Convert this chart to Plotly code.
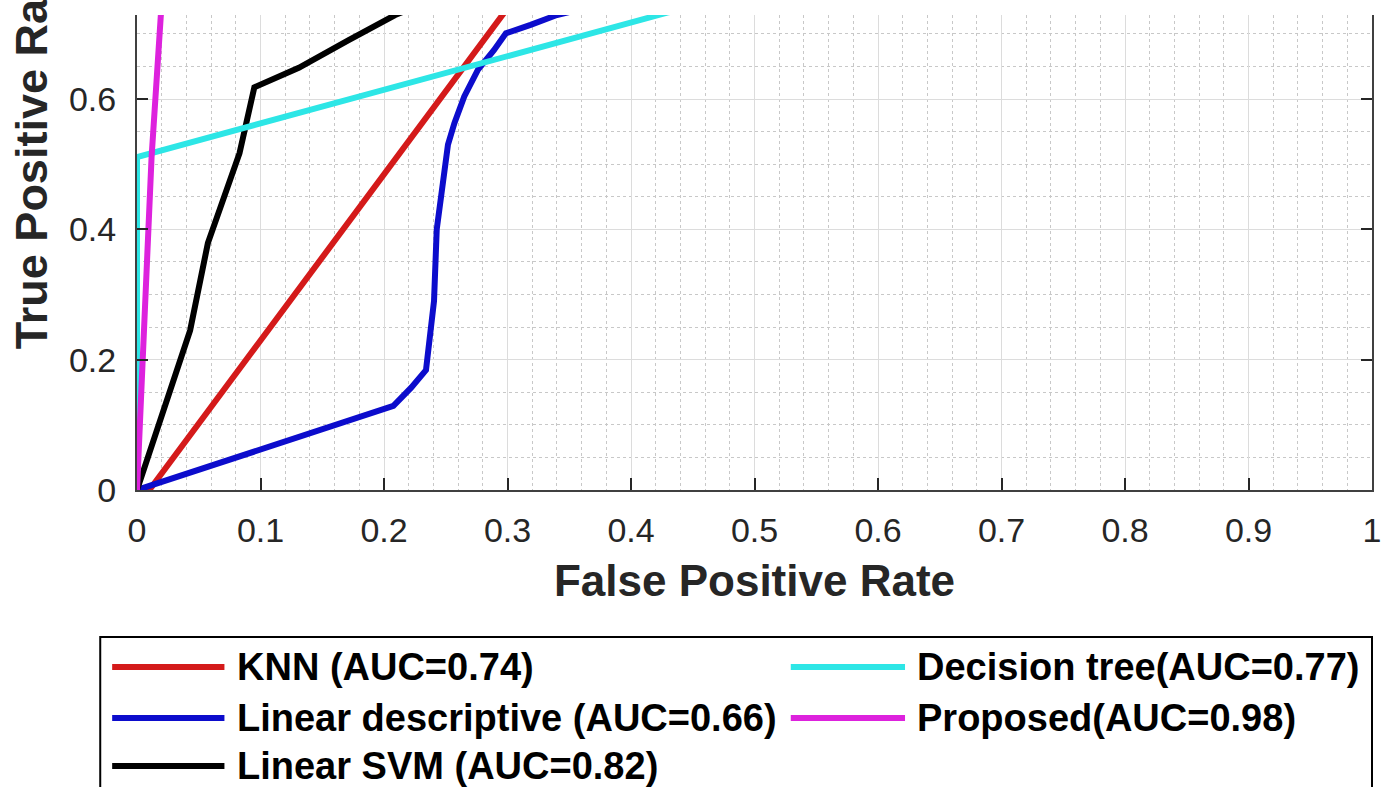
import plotly.graph_objects as go

# ---------------- data ----------------
fpr_knn = [0.0, 0.010, 0.310, 1.0]
tpr_knn = [0.0, 0.000, 0.765, 1.0]

fpr_ld = [0.0, 0.2076, 0.222, 0.234, 0.2405, 0.2427, 0.2518, 0.2570, 0.265, 0.276, 0.289, 0.2987, 0.3187, 0.340, 0.45, 0.60, 1.0]
tpr_ld = [0.0, 0.129, 0.157, 0.184, 0.290, 0.400, 0.530, 0.563, 0.604, 0.645, 0.675, 0.701, 0.714, 0.729, 0.78, 0.84, 1.0]

fpr_svm = [0.0, 0.043, 0.0574, 0.083, 0.095, 0.131, 0.171, 0.209, 0.30, 0.50, 1.0]
tpr_svm = [0.0, 0.245, 0.379, 0.517, 0.618, 0.648, 0.690, 0.729, 0.80, 0.90, 1.0]

fpr_dt = [0.0, 0.0, 0.430, 1.0]
tpr_dt = [0.0, 0.511, 0.733, 1.0]

fpr_prop = [0.0, 0.0118, 0.0193, 0.05, 0.20, 1.0]
tpr_prop = [0.0, 0.511, 0.729, 0.95, 0.99, 1.0]

names = ["KNN (AUC=0.74)", "Linear descriptive (AUC=0.66)", "Linear SVM (AUC=0.82)",
         "Decision tree(AUC=0.77)", "Proposed(AUC=0.98)"]
colors = ["#d41a1a", "#0c0ccc", "#000000", "#2de6e6", "#dd22dd"]
series_x = [fpr_knn, fpr_ld, fpr_svm, fpr_dt, fpr_prop]
series_y = [tpr_knn, tpr_ld, tpr_svm, tpr_dt, tpr_prop]

x_ticks = [0, 0.1, 0.2, 0.3, 0.4, 0.5, 0.6, 0.7, 0.8, 0.9, 1]
x_ticktext = ["0", "0.1", "0.2", "0.3", "0.4", "0.5", "0.6", "0.7", "0.8", "0.9", "1"]
y_ticks = [0, 0.2, 0.4, 0.6]
y_ticktext = ["0", "0.2", "0.4", "0.6"]

# legend layout: (column, row) for each series, MATLAB 2-column row-major order
legend_slots = [(0, 0), (0, 1), (0, 2), (1, 0), (1, 1)]

# ---------------- layout geometry ----------------
W, H = 1393, 787
ML, MR, MT, MB = 137, 13, 15, 297
PW, PH = W - ML - MR, H - MT - MB
Y_PER_UNIT = 651.5
FONT = "Liberation Sans, Arial, Helvetica, sans-serif"
AX = "#262626"


def pxx(px):
    return (px - ML) / PW


def pxy(py):
    return (H - MB - py) / PH


fig = go.Figure()
for xs, ys, nm, c in zip(series_x, series_y, names, colors):
    fig.add_trace(go.Scatter(x=xs, y=ys, mode="lines", name=nm,
                             line=dict(color=c, width=6), showlegend=False))

# ---------------- manual MATLAB-like legend ----------------
shapes = [dict(type="rect", xref="paper", yref="paper",
               x0=pxx(100), x1=pxx(1380), y0=pxy(800), y1=pxy(637),
               line=dict(color="#000000", width=2), fillcolor="white", layer="above")]
annotations = []
col_line_x = [(112, 225), (795, 910)]
col_text_x = [236, 920]
row_y = [667, 718, 766]
for nm, c, (ci, ri) in zip(names, colors, legend_slots):
    x0, x1 = col_line_x[ci]
    yy = row_y[ri]
    shapes.append(dict(type="line", xref="paper", yref="paper",
                       x0=pxx(x0), x1=pxx(x1), y0=pxy(yy), y1=pxy(yy),
                       line=dict(color=c, width=6), layer="above"))
    annotations.append(dict(xref="paper", yref="paper", x=pxx(col_text_x[ci]), y=pxy(yy),
                            xanchor="left", yanchor="middle", showarrow=False,
                            text="<b>" + nm + "</b>",
                            font=dict(family=FONT, size=38, color="#000000")))

# y-axis title (the top of the original figure is cropped)
annotations.append(dict(xref="paper", yref="y", x=pxx(31), y=0.515, xanchor="center",
                        yanchor="middle", textangle=-90, showarrow=False,
                        text="<b>True Positive Rate</b>",
                        font=dict(family=FONT, size=45, color=AX)))

fig.update_layout(
    width=W, height=H, autosize=False,
    margin=dict(l=ML, r=MR, t=MT, b=MB, pad=0),
    paper_bgcolor="white", plot_bgcolor="white",
    font=dict(family=FONT, color=AX),
    shapes=shapes, annotations=annotations,
    showlegend=False,
)

fig.update_xaxes(
    range=[0, 1], tickvals=x_ticks, ticktext=x_ticktext,
    tickfont=dict(size=34, color=AX), ticks="inside", ticklen=12, tickwidth=2, tickcolor=AX,
    showline=True, linecolor="#404040", linewidth=2, mirror=False,
    showgrid=True, gridcolor="#dcdcdc", gridwidth=1, zeroline=False,
    minor=dict(dtick=0.02, tick0=0, showgrid=True, gridcolor="#c8c8c8", griddash="dot", gridwidth=1),
    title=dict(text="<b>False Positive Rate</b>", font=dict(size=44, color=AX), standoff=17),
    ticklabelstandoff=9,
)
fig.update_yaxes(
    range=[0, PH / Y_PER_UNIT], tickvals=y_ticks, ticktext=y_ticktext,
    tickfont=dict(size=34, color=AX), ticks="inside", ticklen=11, tickwidth=2, tickcolor=AX,
    showline=True, linecolor="#404040", linewidth=2, mirror="ticks",
    showgrid=True, gridcolor="#dcdcdc", gridwidth=1, zeroline=False,
    minor=dict(dtick=0.05, tick0=0, showgrid=True, gridcolor="#c8c8c8", griddash="dot", gridwidth=1),
    ticklabelstandoff=12,
)

fig.write_html("out.html")
